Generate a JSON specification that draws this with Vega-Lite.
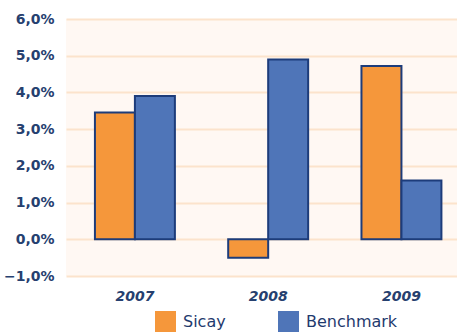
{
  "$schema": "https://vega.github.io/schema/vega-lite/v6.json",
  "autosize": {"type": "none"},
  "padding": {"left": 66, "top": 19, "right": 0, "bottom": 56},
  "width": 391,
  "height": 257,
  "background": "#ffffff",
  "config": {
    "view": {"fill": "#FFF8F3", "stroke": null},
    "font": "DejaVu Sans"
  },
  "data": {
    "values": [
      {"year": "2007", "series": "Sicay", "value": 3.45},
      {"year": "2007", "series": "Benchmark", "value": 3.9},
      {"year": "2008", "series": "Sicay", "value": -0.5},
      {"year": "2008", "series": "Benchmark", "value": 4.9},
      {"year": "2009", "series": "Sicay", "value": 4.72},
      {"year": "2009", "series": "Benchmark", "value": 1.6}
    ]
  },
  "mark": {"type": "bar", "stroke": "#1D3C7A", "strokeWidth": 2},
  "encoding": {
    "x": {
      "field": "year",
      "type": "nominal",
      "scale": {"paddingInner": 0.4, "paddingOuter": 0.167, "align": 0.65},
      "axis": {
        "title": null,
        "labelAngle": 0,
        "domain": false,
        "ticks": false,
        "labelPadding": 13,
        "labelFont": "DejaVu Sans",
        "labelFontSize": 14,
        "labelFontWeight": "bold",
        "labelFontStyle": "italic",
        "labelColor": "#26406F"
      }
    },
    "xOffset": {"field": "series", "sort": ["Sicay", "Benchmark"]},
    "y": {
      "field": "value",
      "type": "quantitative",
      "scale": {"domain": [-1, 6], "nice": false, "zero": false},
      "axis": {
        "title": null,
        "values": [-1, 0, 1, 2, 3, 4, 5, 6],
        "labelExpr": "replace(format(datum.value, '.1f'), '.', ',') + '%'",
        "domain": false,
        "ticks": false,
        "labelPadding": 12,
        "labelFont": "DejaVu Sans",
        "labelFontSize": 14,
        "labelFontWeight": "bold",
        "labelColor": "#26406F",
        "grid": true,
        "gridColor": "#FCE3CC",
        "gridWidth": 2
      }
    },
    "fill": {
      "field": "series",
      "type": "nominal",
      "sort": ["Sicay", "Benchmark"],
      "scale": {"domain": ["Sicay", "Benchmark"], "range": ["#F5973B", "#4F75B8"]},
      "legend": {
        "title": null,
        "orient": "none",
        "direction": "horizontal",
        "legendX": 89,
        "legendY": 292,
        "symbolType": "square",
        "symbolSize": 441,
        "symbolStrokeWidth": 0,
        "labelOffset": 7,
        "columnPadding": 52,
        "labelFont": "DejaVu Sans",
        "labelFontSize": 16,
        "labelColor": "#1F3A6E"
      }
    }
  }
}
